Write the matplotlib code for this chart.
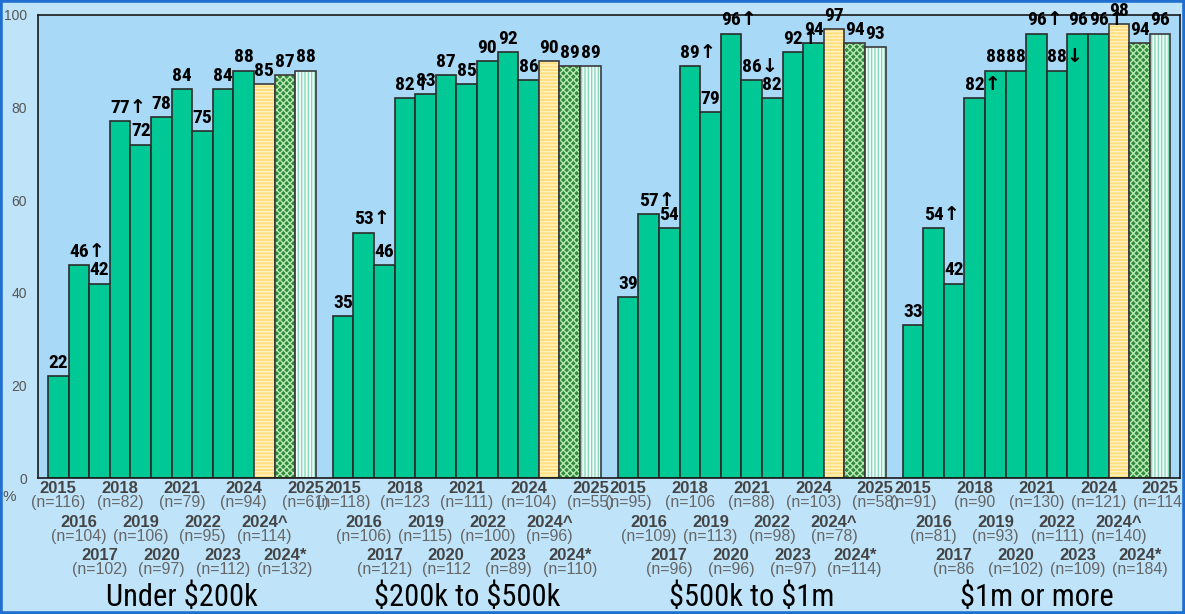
import matplotlib.pyplot as plt
from matplotlib.patches import Rectangle
from matplotlib import font_manager

groups = ["Under \\$200k", "\\$200k to \\$500k", "\\$500k to \\$1m", "\\$1m or more"]
years = ["2015", "2016", "2017", "2018", "2019", "2020", "2021", "2022", "2023", "2024", "2024^", "2024*", "2025"]

under_200k = [22, 46, 42, 77, 72, 78, 84, 75, 84, 88, 85, 87, 88]
k200_500 = [35, 53, 46, 82, 83, 87, 85, 90, 92, 86, 90, 89, 89]
k500_1m = [39, 57, 54, 89, 79, 96, 86, 82, 92, 94, 97, 94, 93]
m1_more = [33, 54, 42, 82, 88, 88, 96, 88, 96, 96, 98, 94, 96]
values = [under_200k, k200_500, k500_1m, m1_more]

# significance arrows ('' = none)
arrows = [
    ["", "↑", "", "↑", "", "", "", "", "", "", "", "", ""],
    ["", "↑", "", "↑", "", "", "", "", "", "", "", "", ""],
    ["", "↑", "", "↑", "", "↑", "↓", "", "↑", "", "", "", ""],
    ["", "↑", "", "↑", "", "", "↑", "↓", "", "↑", "", "", ""],
]

n_under_200k = ["(n=116)", "(n=104)", "(n=102)", "(n=82)", "(n=106)", "(n=97)", "(n=79)", "(n=95)", "(n=112)", "(n=94)", "(n=114)", "(n=132)", "(n=61)"]
n_200_500 = ["(n=118)", "(n=106)", "(n=121)", "(n=123", "(n=115)", "(n=112", "(n=111)", "(n=100)", "(n=89)", "(n=104)", "(n=96)", "(n=110)", "(n=55)"]
n_500_1m = ["(n=95)", "(n=109)", "(n=96)", "(n=106", "(n=113)", "(n=96)", "(n=88)", "(n=98)", "(n=97)", "(n=103)", "(n=78)", "(n=114)", "(n=58)"]
n_1m_more = ["(n=91)", "(n=81)", "(n=86", "(n=90", "(n=93)", "(n=102)", "(n=130)", "(n=111)", "(n=109)", "(n=121)", "(n=140)", "(n=184)", "(n=114)"]
n_labels = [n_under_200k, n_200_500, n_500_1m, n_1m_more]

# condensed face for the value labels and group names
names = {f.name for f in font_manager.fontManager.ttflist}
narrow_name = "Roboto Condensed" if "Roboto Condensed" in names else "Liberation Sans"
narrow = [narrow_name, "DejaVu Sans"]

plt.rcParams['font.family'] = ["Liberation Sans", "DejaVu Sans"]
plt.rcParams['hatch.linewidth'] = 1.0

green = "#00c995"
fig = plt.figure(figsize=(11.85, 6.14), dpi=100, facecolor="#bfe4fa")
ax = fig.add_axes([38 / 1185, 136 / 614, 1142 / 1185, 463 / 614])
ax.set_facecolor("#a8d9f7")

stride = 13.83
x0 = 0.485
ax.set_xlim(0, 1142 / 20.6)
ax.set_ylim(0, 100)

for g in range(4):
    for i in range(13):
        left = x0 + g * stride + i
        v = values[g][i]
        if i < 10:
            ax.bar(left, v, width=1, align='edge', color=green, edgecolor="#2b2b2b", linewidth=1.2)
        else:
            face, hc, hatch = [("#ffdf7e", "#fff3c4", "-----"),
                               ("#2f8a3a", "#b9e8b4", "xxxxx"),
                               ("#f4fffb", "#86d9b8", "|||||")][i - 10]
            ax.bar(left, v, width=1, align='edge', color=face, edgecolor=hc, hatch=hatch, linewidth=0)
            ax.bar(left, v, width=1, align='edge', fill=False, edgecolor="#3a3a3a", linewidth=1.2)
        cx = left + 0.5
        a = arrows[g][i]
        if a:
            ax.annotate(str(v) + a, (cx, v), xytext=(-7, 3), textcoords='offset points',
                        ha='left', va='bottom', fontsize=14, fontweight='bold', family=narrow)
        else:
            ax.annotate(str(v), (cx, v), xytext=(0, 3), textcoords='offset points',
                        ha='center', va='bottom', fontsize=14, fontweight='bold', family=narrow)
        row = i % 3
        yy = [-0.023, -0.097, -0.168][row]
        yn = [-0.052, -0.127, -0.197][row]
        ax.text(cx, yy, years[i], transform=ax.get_xaxis_transform(), ha='center', va='center',
                fontsize=12, fontweight='bold', color="#444444", clip_on=False)
        ax.text(cx, yn, n_labels[g][i], transform=ax.get_xaxis_transform(), ha='center', va='center',
                fontsize=11.5, color="#666666", clip_on=False)
    gx = x0 + g * stride + 6.5
    ax.text(gx, -0.258, groups[g], transform=ax.get_xaxis_transform(), ha='center', va='center',
            fontsize=22, family=narrow, color="black", clip_on=False)

ax.set_xticks([])
ax.set_yticks([0, 20, 40, 60, 80, 100])
ax.tick_params(axis='y', length=0, pad=8, labelsize=10, labelcolor="#555555")
for s in ax.spines.values():
    s.set_color("#1a1a1a")
    s.set_linewidth(1.2)
ax.text(-0.025, -0.04, "%", transform=ax.transAxes, ha='center', va='center', fontsize=11, color="#555555")

fig.patches.append(Rectangle((0, 0), 1, 1, transform=fig.transFigure, fill=False,
                             edgecolor="#1f6fd0", linewidth=4))

fig.savefig("out.png", dpi=100, facecolor=fig.get_facecolor())
